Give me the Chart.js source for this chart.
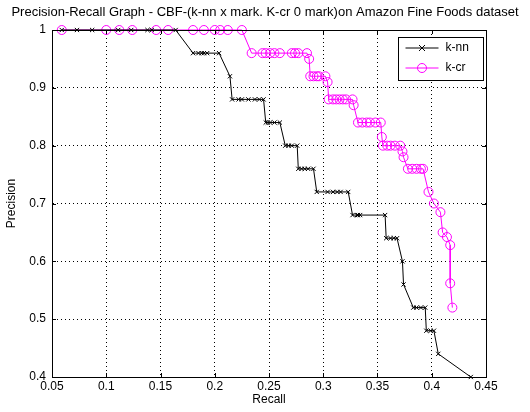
<!DOCTYPE html>
<html>
<head>
<meta charset="utf-8">
<script src="https://cdn.jsdelivr.net/npm/chart.js@4.4.0/dist/chart.umd.min.js"></script>
<style>
  html, body { margin: 0; padding: 0; background: #fff; }
  #wrap { width: 530px; height: 412px; }
</style>
</head>
<body>
<div id="wrap"><canvas id="prChart"></canvas></div>
<script>
// k-nn (x mark)
var knnRecall = [0.059, 0.073, 0.087, 0.111, 0.123, 0.138, 0.142, 0.164,
  0.180, 0.185, 0.188, 0.190, 0.193, 0.204,
  0.214,
  0.216, 0.222, 0.225, 0.231, 0.237, 0.241, 0.245,
  0.247, 0.249, 0.251, 0.255, 0.260,
  0.265, 0.268, 0.271, 0.276,
  0.277, 0.280, 0.283, 0.286, 0.291,
  0.294, 0.304, 0.309, 0.313, 0.316, 0.323,
  0.327, 0.331, 0.332, 0.334, 0.357,
  0.358, 0.362, 0.365, 0.368,
  0.373, 0.374,
  0.383, 0.386, 0.390, 0.394,
  0.395, 0.399, 0.402,
  0.406, 0.436];
var knnPrecision = [1, 1, 1, 1, 1, 1, 1, 1,
  0.96, 0.96, 0.96, 0.96, 0.96, 0.96,
  0.92,
  0.88, 0.88, 0.88, 0.88, 0.88, 0.88, 0.88,
  0.84, 0.84, 0.84, 0.84, 0.84,
  0.80, 0.80, 0.80, 0.80,
  0.76, 0.76, 0.76, 0.76, 0.76,
  0.72, 0.72, 0.72, 0.72, 0.72, 0.72,
  0.68, 0.68, 0.68, 0.68, 0.68,
  0.64, 0.64, 0.64, 0.64,
  0.60, 0.56,
  0.52, 0.52, 0.52, 0.52,
  0.48, 0.48, 0.48,
  0.44, 0.40];

// k-cr (0 mark)
var kcrRecall = [0.059, 0.100, 0.112, 0.124, 0.146, 0.157, 0.180, 0.190, 0.200, 0.205, 0.212, 0.225,
  0.234, 0.244, 0.247, 0.251, 0.255, 0.260, 0.271, 0.274, 0.277, 0.285,
  0.287,
  0.288, 0.291, 0.294, 0.296, 0.302,
  0.304,
  0.305, 0.309, 0.312, 0.315, 0.318, 0.321, 0.327,
  0.328,
  0.332, 0.336, 0.340, 0.343, 0.348, 0.353,
  0.354,
  0.355, 0.359, 0.362, 0.366, 0.371,
  0.373, 0.374,
  0.378, 0.382, 0.386, 0.390, 0.392,
  0.397, 0.402, 0.408, 0.410, 0.414, 0.417, 0.417, 0.419];
var kcrPrecision = [1, 1, 1, 1, 1, 1, 1, 1, 1, 1, 1, 1,
  0.96, 0.96, 0.96, 0.96, 0.96, 0.96, 0.96, 0.96, 0.96, 0.96,
  0.95,
  0.92, 0.92, 0.92, 0.92, 0.92,
  0.91,
  0.88, 0.88, 0.88, 0.88, 0.88, 0.88, 0.88,
  0.87,
  0.84, 0.84, 0.84, 0.84, 0.84, 0.84,
  0.815,
  0.80, 0.80, 0.80, 0.80, 0.80,
  0.79, 0.78,
  0.76, 0.76, 0.76, 0.76, 0.76,
  0.72, 0.70, 0.685, 0.65, 0.642, 0.628, 0.562, 0.52];

var xTicks = [0.05, 0.1, 0.15, 0.2, 0.25, 0.3, 0.35, 0.4, 0.45];
var yTicks = [0.4, 0.5, 0.6, 0.7, 0.8, 0.9, 1];

function toPoints(xs, ys) {
  return xs.map(function (x, i) { return { x: x, y: ys[i] }; });
}

var FONT = "'Liberation Sans', Arial, sans-serif";

// 枠・内向き目盛り・凡例
var matlabBoxPlugin = {
  id: "matlabBox",
  afterDraw: function (chart) {
    var ctx = chart.ctx;
    var a = chart.chartArea;
    var xs = chart.scales.x, ys = chart.scales.y;
    ctx.save();
    ctx.strokeStyle = "#000";
    ctx.lineWidth = 1;
    ctx.beginPath();
    xTicks.forEach(function (v) {
      var px = Math.round(xs.getPixelForValue(v)) + 0.5;
      ctx.moveTo(px, a.bottom); ctx.lineTo(px, a.bottom - 4);
      ctx.moveTo(px, a.top); ctx.lineTo(px, a.top + 4);
    });
    yTicks.forEach(function (v) {
      var py = Math.round(ys.getPixelForValue(v)) + 0.5;
      ctx.moveTo(a.left, py); ctx.lineTo(a.left + 4, py);
      ctx.moveTo(a.right, py); ctx.lineTo(a.right - 4, py);
    });
    ctx.stroke();
    ctx.strokeRect(Math.round(a.left) + 0.5, Math.round(a.top) + 0.5,
      Math.round(a.right - a.left), Math.round(a.bottom - a.top));

    // 凡例
    var lx = 398.5, ly = 37.5, lw = 85, lh = 43;
    ctx.fillStyle = "#fff";
    ctx.fillRect(lx, ly, lw, lh);
    ctx.strokeRect(lx, ly, lw, lh);
    ctx.font = "12px " + FONT;
    ctx.textBaseline = "middle";
    chart.data.datasets.forEach(function (ds, i) {
      var y = ly + 10.5 + i * 20;
      ctx.strokeStyle = ds.borderColor;
      ctx.beginPath();
      ctx.moveTo(lx + 7, y); ctx.lineTo(lx + 40, y);
      ctx.stroke();
      var cx = lx + 23.5;
      ctx.beginPath();
      if (ds.pointStyle === "circle") {
        ctx.arc(cx, y, ds.pointRadius, 0, Math.PI * 2);
      } else {
        var r = ds.pointRadius;
        ctx.moveTo(cx - r, y - r); ctx.lineTo(cx + r, y + r);
        ctx.moveTo(cx - r, y + r); ctx.lineTo(cx + r, y - r);
      }
      ctx.stroke();
      ctx.fillStyle = "#000";
      ctx.fillText(ds.label, lx + 47, y);
    });
    ctx.restore();
  },
};

var prChartConfig = {
  type: "scatter",
  data: {
    datasets: [
      {
        label: "k-nn",
        data: toPoints(knnRecall, knnPrecision),
        showLine: true,
        borderColor: "#000000",
        backgroundColor: "rgba(0,0,0,0)",
        borderWidth: 1,
        pointStyle: "crossRot",
        pointRadius: 3,
        pointBorderWidth: 1,
        clip: false,
      },
      {
        label: "k-cr",
        data: toPoints(kcrRecall, kcrPrecision),
        showLine: true,
        borderColor: "#ff00ff",
        backgroundColor: "rgba(0,0,0,0)",
        borderWidth: 1,
        pointStyle: "circle",
        pointRadius: 4.5,
        pointBorderWidth: 1,
        clip: false,
      },
    ],
  },
  options: {
    responsive: true,
    maintainAspectRatio: false,
    animation: false,
    layout: { padding: 0 },
    plugins: {
      legend: { display: false },
      tooltip: { enabled: false },
      title: {
        display: true,
        text: "Precision-Recall Graph - CBF-(k-nn x mark. K-cr 0 mark)on Amazon Fine Foods dataset",
        color: "#000",
        font: { family: FONT, size: 13, weight: "normal" },
        padding: { top: 5, bottom: 9.4 },
      },
    },
    scales: {
      x: {
        type: "linear",
        min: 0.05,
        max: 0.45,
        afterBuildTicks: function (scale) {
          scale.ticks = xTicks.map(function (v) { return { value: v }; });
        },
        afterFit: function (scale) { scale.height = 35; },
        ticks: {
          color: "#000",
          font: { family: FONT, size: 12 },
          padding: 2,
          maxRotation: 0,
          callback: function (v) { return String(parseFloat(v.toFixed(2))); },
        },
        grid: {
          color: "#000",
          lineWidth: 1,
          drawTicks: false,
        },
        border: { display: true, color: "#000", dash: [1, 3] },
        title: {
          display: true,
          text: "Recall",
          color: "#000",
          font: { family: FONT, size: 12 },
          padding: { top: 0, bottom: 4.8 },
        },
      },
      y: {
        type: "linear",
        min: 0.4,
        max: 1,
        afterBuildTicks: function (scale) {
          scale.ticks = yTicks.map(function (v) { return { value: v }; });
        },
        afterFit: function (scale) { scale.width = 52; },
        ticks: {
          color: "#000",
          font: { family: FONT, size: 12 },
          padding: 6,
          callback: function (v) { return String(parseFloat(v.toFixed(2))); },
        },
        grid: {
          color: "#000",
          lineWidth: 1,
          drawTicks: false,
        },
        border: { display: true, color: "#000", dash: [1, 3] },
        title: {
          display: true,
          text: "Precision",
          color: "#000",
          font: { family: FONT, size: 12 },
          padding: { top: 4.8, bottom: 0 },
        },
      },
      // 右側の余白用（表示なし）
      yRight: {
        type: "linear",
        position: "right",
        min: 0.4,
        max: 1,
        afterFit: function (scale) { scale.width = 44; },
        ticks: { display: false },
        grid: { display: false, drawTicks: false },
        border: { display: false },
      },
    },
  },
  plugins: [matlabBoxPlugin],
};

var prChart = new Chart(document.getElementById("prChart"), prChartConfig);
</script>
</body>
</html>
